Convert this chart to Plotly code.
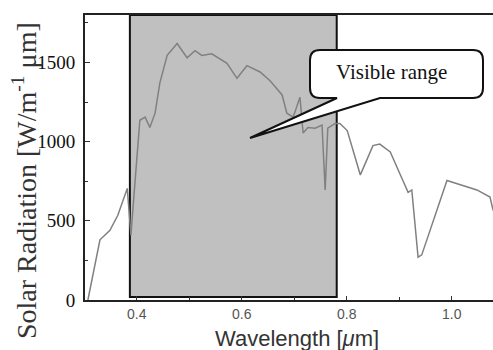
import plotly.graph_objects as go

# ---- data ----
wavelength = [0.307, 0.330, 0.349, 0.364, 0.382, 0.389, 0.397, 0.406, 0.416, 0.425,
              0.435, 0.444, 0.458, 0.477, 0.496, 0.511, 0.524, 0.543, 0.572, 0.591,
              0.610, 0.635, 0.654, 0.677, 0.686, 0.698, 0.711, 0.717, 0.726, 0.740,
              0.753, 0.759, 0.764, 0.778, 0.787, 0.801, 0.826, 0.850, 0.863, 0.883,
              0.907, 0.917, 0.924, 0.936, 0.943, 0.991, 1.048, 1.073, 1.079]
radiation = [0, 380, 440, 535, 705, 410, 755, 1135, 1155, 1090,
             1180, 1370, 1545, 1620, 1530, 1575, 1545, 1555, 1495, 1400,
             1480, 1440, 1385, 1295, 1180, 1155, 1280, 1055, 1090, 1085,
             1105, 695, 1085, 1115, 1115, 1070, 790, 975, 985, 935,
             755, 680, 695, 270, 285, 755, 695, 650, 565]
visible_range = [0.387, 0.781]
x_ticks = [0.4, 0.6, 0.8, 1.0]
x_tick_labels = ["0.4", "0.6", "0.8", "1.0"]
y_ticks = [0, 500, 1000, 1500]
y_tick_labels = ["0", "500", "1000", "1500"]
callout_text = "Visible range"

# ---- geometry helpers (plot area: x 85..493 px, y 15..300 px) ----
X0, X1 = 0.3015, 1.0787
Y0, Y1 = 0, 1800
PL, PR, PT, PB = 85, 493, 15, 300


def px2x(px):
    return X0 + (px - PL) / (PR - PL) * (X1 - X0)


def py2y(py):
    return Y0 + (PB - py) / (PB - PT) * (Y1 - Y0)


fig = go.Figure()

# shaded visible band
fig.add_shape(type="rect", xref="x", yref="y",
              x0=visible_range[0], x1=visible_range[1], y0=py2y(297), y1=Y1,
              fillcolor="#c0c0c0", line=dict(color="#111111", width=2),
              layer="below")

fig.add_trace(go.Scatter(x=wavelength, y=radiation, mode="lines",
                         line=dict(color="#808080", width=1.5),
                         hoverinfo="skip", showlegend=False))

# callout box with tail
L, R, T, B = px2x(310), px2x(483), py2y(50), py2y(98)
rx = px2x(310 + 10) - L
ry = py2y(50) - py2y(60)
t1, t2, tip = px2x(337), px2x(380), (px2x(250), py2y(138))
path = (f"M {L+rx},{T} L {R-rx},{T} Q {R},{T} {R},{T-ry} L {R},{B+ry} "
        f"Q {R},{B} {R-rx},{B} L {t2},{B} L {tip[0]},{tip[1]} L {t1},{B} "
        f"L {L+rx},{B} Q {L},{B} {L},{B+ry} L {L},{T-ry} Q {L},{T} {L+rx},{T} Z")
fig.add_shape(type="path", xref="x", yref="y", path=path,
              fillcolor="white", line=dict(color="#111111", width=2))
fig.add_annotation(x=px2x(391), y=py2y(72), xref="x", yref="y", text=callout_text,
                   showarrow=False, xanchor="center", yanchor="middle",
                   font=dict(family="Liberation Serif", size=21, color="#111111"))

# axis titles as annotations
fig.add_annotation(x=(24 - PL) / (PR - PL), y=(PB - 181) / (PB - PT),
                   xref="paper", yref="paper", textangle=-90, showarrow=False,
                   xanchor="center", yanchor="middle",
                   text="Solar Radiation [W/m<sup>-1</sup> μm]",
                   font=dict(family="Liberation Serif", size=28, color="#333333"))
fig.add_annotation(x=(297 - PL) / (PR - PL), y=(PB - 338) / (PB - PT),
                   xref="paper", yref="paper", showarrow=False,
                   xanchor="center", yanchor="middle",
                   text="Wavelength [<i>μ</i>m]",
                   font=dict(family="Liberation Sans", size=22, color="#333333"))

fig.update_xaxes(range=[X0, X1], tickvals=x_ticks, ticktext=x_tick_labels,
                 ticks="inside", ticklen=4, tickcolor="#333333",
                 minor=dict(ticks="inside", ticklen=3, dtick=0.1, tickcolor="#333333"),
                 showline=True, linecolor="#222222", linewidth=2, mirror=True,
                 showgrid=False, zeroline=False,
                 tickfont=dict(family="Liberation Sans", size=14, color="#555555"))
fig.update_yaxes(range=[Y0, Y1], tickvals=y_ticks, ticktext=y_tick_labels,
                 ticks="inside", ticklen=5, tickcolor="#333333",
                 minor=dict(ticks="inside", ticklen=3, dtick=250, tickcolor="#333333"),
                 showline=True, linecolor="#222222", linewidth=2, mirror=False,
                 showgrid=False, zeroline=False, ticklabelstandoff=4,
                 tickfont=dict(family="Liberation Serif", size=19, color="#111111"))

fig.update_layout(width=493, height=350,
                  margin=dict(l=PL, r=493 - PR, t=PT, b=350 - PB),
                  plot_bgcolor="white", paper_bgcolor="white",
                  showlegend=False)

fig.write_html("out.html")
